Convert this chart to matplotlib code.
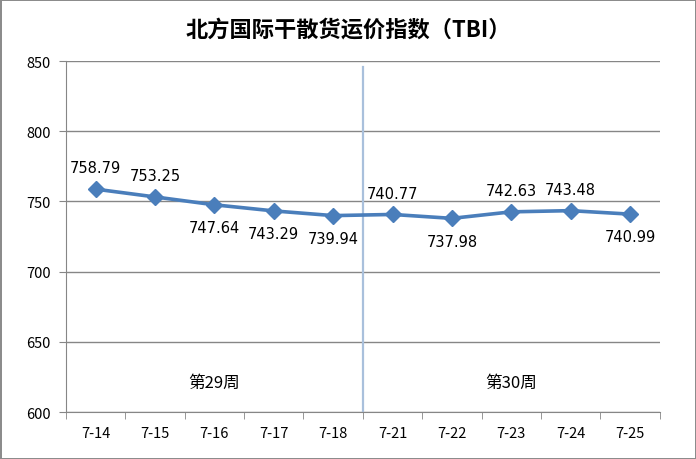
import matplotlib
matplotlib.use("Agg")
import matplotlib.pyplot as plt

plt.rcParams["font.family"] = ["Noto Sans CJK SC", "DejaVu Sans"]

dates = ["7-14", "7-15", "7-16", "7-17", "7-18", "7-21", "7-22", "7-23", "7-24", "7-25"]
tbi = [758.79, 753.25, 747.64, 743.29, 739.94, 740.77, 737.98, 742.63, 743.48, 740.99]
label_above = [True, True, False, False, False, True, False, True, True, False]
week_labels = ["第29周", "第30周"]
week_label_x = [2, 7]
week_label_y = 621
y_ticks = [600, 650, 700, 750, 800, 850]

line_color = "#4a7ebb"
grid_color = "#868686"

fig = plt.figure(figsize=(6.96, 4.6), dpi=100)
fig.patch.set_edgecolor("#8c8c8c")
fig.patch.set_linewidth(2)
ax = fig.add_axes([0.0948, 0.102, 0.853, 0.763])

x = list(range(len(dates)))
ax.plot(x, tbi, color=line_color, linewidth=2.6, marker="D", markersize=8.5,
        markerfacecolor=line_color, markeredgecolor=line_color, zorder=3)

for xi, v, up in zip(x, tbi, label_above):
    ax.annotate(f"{v:.2f}", (xi, v), textcoords="offset points",
                xytext=(0, 10 if up else -11), ha="center",
                va="bottom" if up else "top", fontsize=10.5,
                family="DejaVu Sans", color="black")

# week separator
ax.plot([4.5, 4.5], [600, 846], color="#a9c0dc", linewidth=1.6, zorder=2)
for wx, wl in zip(week_label_x, week_labels):
    ax.text(wx, week_label_y, wl, ha="center", va="center", fontsize=12)

ax.set_xlim(-0.5, len(dates) - 0.5)
ax.set_ylim(600, 850)
ax.set_yticks(y_ticks)
ax.set_yticklabels([str(t) for t in y_ticks], fontsize=10.5)
ax.set_xticks(x)
ax.set_xticklabels(dates, fontsize=10.5)
ax.set_xticks([i - 0.5 for i in range(len(dates) + 1)], minor=True)
ax.tick_params(axis="x", which="major", length=0, pad=10)
ax.tick_params(axis="x", which="minor", length=5, color=grid_color, direction="out")
ax.tick_params(axis="y", length=5, color=grid_color, direction="out", pad=6)

ax.yaxis.grid(True, color=grid_color, linewidth=1)
ax.set_axisbelow(True)
for s in ["top", "right"]:
    ax.spines[s].set_visible(False)
for s in ["left", "bottom"]:
    ax.spines[s].set_color(grid_color)

fig.suptitle("北方国际干散货运价指数（TBI）", fontsize=16, fontweight="bold", y=0.96)

fig.savefig("out.png", dpi=100, edgecolor=fig.get_edgecolor())
